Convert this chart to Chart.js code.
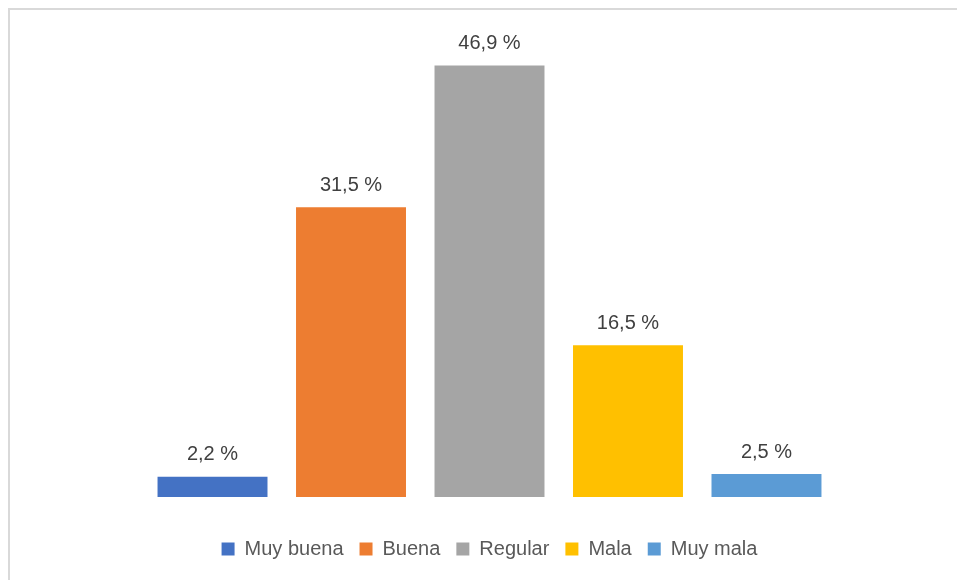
<!DOCTYPE html>
<html>
<head>
<meta charset="utf-8">
<script src="https://cdn.jsdelivr.net/npm/chart.js@4"></script>
<style>
  html, body { margin: 0; padding: 0; background: #fff; overflow: hidden; }
  #marco { position: absolute; left: 8px; top: 8px; width: 980px; height: 600px; border: 2px solid #d9d9d9; }
  #caja { position: absolute; left: 0; top: 0; width: 957px; height: 580px; }
</style>
</head>
<body>
<div id="marco"></div>
<div id="caja"><canvas id="grafico"></canvas></div>
<script>
const categorias = ['Muy buena', 'Buena', 'Regular', 'Mala', 'Muy mala']
const valores = [2.2, 31.5, 46.9, 16.5, 2.5]
const colores = ['#4472c4', '#ed7d31', '#a5a5a5', '#ffc000', '#5b9bd5']

const fuente = "'Liberation Sans Narrow', 'Arial Narrow', 'Liberation Sans', sans-serif"

// etiquetas de valor encima de cada barra
const etiquetas = {
  id: 'etiquetas',
  afterDatasetsDraw(chart) {
    const ctx = chart.ctx
    ctx.save()
    ctx.font = '20px ' + fuente
    ctx.fillStyle = '#404040'
    ctx.textAlign = 'center'
    ctx.textBaseline = 'bottom'
    chart.data.datasets.forEach((ds, i) => {
      const meta = chart.getDatasetMeta(i)
      meta.data.forEach((bar, j) => {
        const txt = ds.data[j].toFixed(1).replace('.', ',') + ' %'
        ctx.fillText(txt, bar.x, bar.y - 12)
      })
    })
    ctx.restore()
  }
}

const ctx = document.getElementById('grafico').getContext('2d')
const grafico = new Chart(ctx, {
  type: 'bar',
  data: {
    labels: [''],
    datasets: categorias.map((c, i) => ({
      label: c,
      data: [valores[i]],
      backgroundColor: colores[i],
      borderWidth: 0,
      barPercentage: 0.794,
      categoryPercentage: 0.7406
    }))
  },
  plugins: [etiquetas],
  options: {
    responsive: true,
    maintainAspectRatio: false,
    animation: false,
    layout: { padding: { left: 22, right: 0, top: 37, bottom: 11 } },
    scales: {
      x: {
        display: true,
        border: { display: false },
        grid: { display: true, drawOnChartArea: false, drawTicks: true, tickLength: 26, color: 'rgba(0,0,0,0)' },
        ticks: { display: false }
      },
      y: { display: false, min: 0, max: 50 }
    },
    plugins: {
      tooltip: { enabled: false },
      legend: {
        position: 'bottom',
        labels: {
          boxWidth: 13,
          boxHeight: 13,
          padding: 16,
          color: '#595959',
          font: { size: 20, family: fuente }
        }
      }
    }
  }
})
</script>
</body>
</html>
